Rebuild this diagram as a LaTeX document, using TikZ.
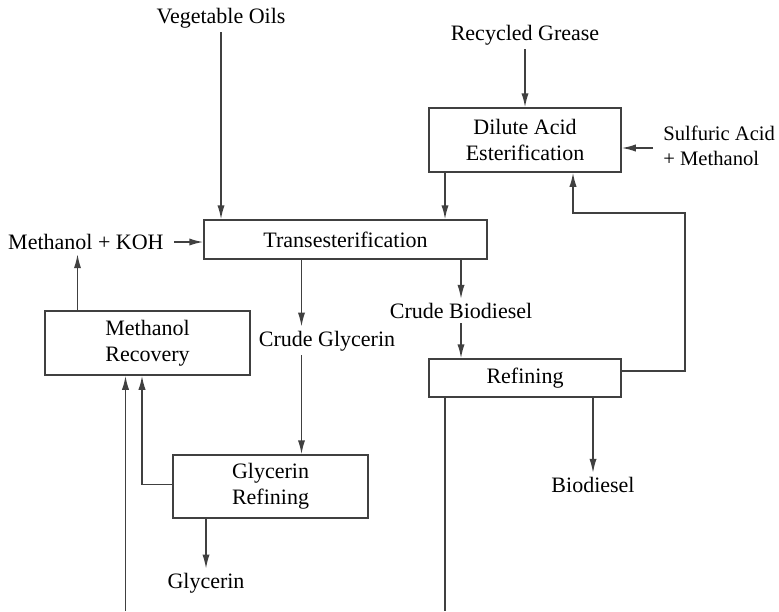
\documentclass[tikz,border=0pt]{standalone}
\usepackage{fontspec}
\setmainfont{Liberation Serif}
\usetikzlibrary{arrows.meta}

\begin{document}
\begin{tikzpicture}[
    x = 0.5pt, y = -0.5pt,
    >={Latex[length=7pt,width=3.6pt]},
    every node/.style = {font = \fontsize{11}{13}\selectfont},
    stage/.style = {draw = black!75, line width = 0.75pt, align = center, inner sep = 0pt},
    stream/.style = {align = left, inner sep = 2pt},
    flow/.style = {draw = black!75, line width = 0.75pt},
    ]
    \useasboundingbox (0,0) rectangle (779,611);
    \coordinate (bot) at (0,611);

    \node[stage, minimum width = 141.5pt, minimum height = 19.5pt] (trans) at (345.5,239.5) {Transesterification};
    \node[stage, minimum width = 96pt, minimum height = 32pt] (dil) at (525,140) {Dilute Acid\\Esterification};
    \node[stage, minimum width = 102.5pt, minimum height = 32pt] (mr) at (147.5,343) {Methanol\\Recovery};
    \node[stage, minimum width = 96pt, minimum height = 19pt] (ref) at (525,378) {Refining};
    \node[stage, minimum width = 97.5pt, minimum height = 31.5pt] (gr) at (270.5,486.5) {Glycerin\\Refining};

    \node[stream] (veg) at (221,18) {Vegetable Oils};
    \node[stream] (rg) at (525,35) {Recycled Grease};
    \node[stream, anchor = west, inner sep = 0.5pt, font = \fontsize{10.3}{12.5}\selectfont] (sulf) at (662,146) {Sulfuric Acid\\+ Methanol};
    \node[stream, anchor = east] (koh) at (168,242) {Methanol + KOH};
    \node[stream] (cg) at (327,341) {Crude Glycerin};
    \node[stream] (cb) at (461,311) {Crude Biodiesel};
    \node[stream] (bio) at (593,485) {Biodiesel};
    \node[stream] (gly) at (206,583) {Glycerin};

    \draw[flow, ->] (veg) -- (veg |- trans.north);
    \draw[flow, ->] (rg) -- (dil);
    \draw[flow, ->] ([xshift=-4.5pt,yshift=-1pt]sulf.west) -- ([yshift=-1pt]sulf.west -| dil.east);
    \draw[flow, ->] ([xshift=-40pt]dil.south) -- ([xshift=-40pt]dil.south |- trans.north);
    \draw[flow, ->] ([xshift=3pt]koh.east) -- (koh -| trans.west);
    \draw[flow, ->] ([xshift=-35pt]mr.north) -- ([xshift=-35pt]mr.north |- koh.south);
    \draw[flow, ->] ([xshift=-22pt]trans.south) -- ([xshift=-22pt]trans.south |- cg.north);
    \draw[flow, ->] ([xshift=-22pt]trans.south |- cg.south) -- ([xshift=-22pt]trans.south |- gr.north);
    \draw[flow, ->] (trans.south -| cb) -- (cb);
    \draw[flow, ->] (cb) -- (cb |- ref.north);
    \draw[flow, ->] ([yshift=3.5pt]ref.east) -| ([xshift=31.5pt,yshift=-20pt]dil.south east) -| ([xshift=24pt]dil.south);
    \draw[flow, ->] (ref.south -| bio) -- (bio);
    \draw[flow] ([xshift=-40pt]ref.south) -- ([xshift=-40pt]ref.south |- bot);
    \draw[flow, ->] ([xshift=-11pt]mr.south |- bot) -- ([xshift=-11pt]mr.south);
    \draw[flow, ->] ([yshift=1pt]gr.west) -| ([xshift=-2.75pt]mr.south);
    \draw[flow, ->] (gr.south -| gly) -- (gly);
\end{tikzpicture}
\end{document}
